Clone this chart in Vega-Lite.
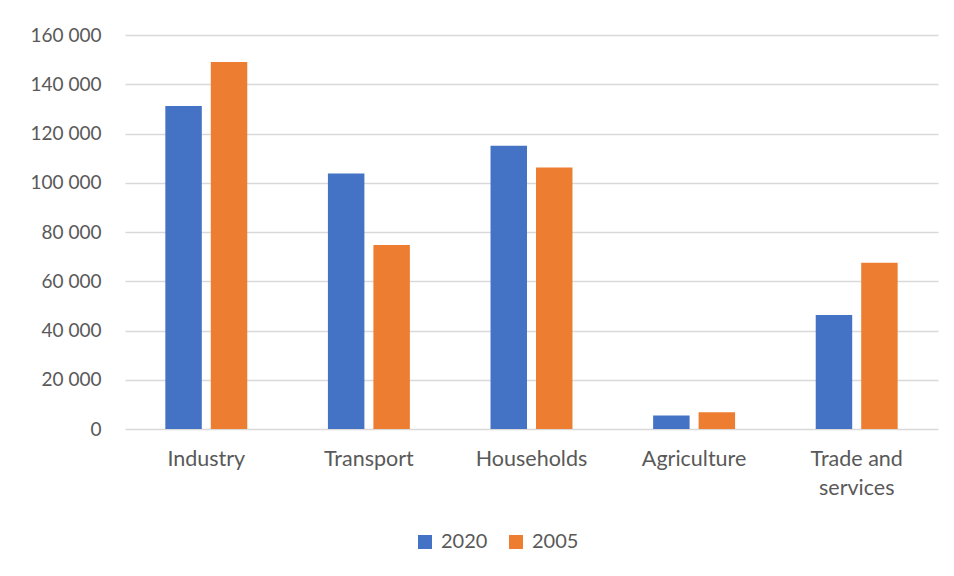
{
  "$schema": "https://vega.github.io/schema/vega-lite/v6.json",
  "autosize": {"type": "none"},
  "width": 813,
  "height": 394,
  "padding": {"left": 125, "top": 35, "right": 16, "bottom": 147},
  "background": "white",
  "data": {
    "values": [
      {"sector": "Industry", "year": "2020", "value": 131200},
      {"sector": "Industry", "year": "2005", "value": 149000},
      {"sector": "Transport", "year": "2020", "value": 103800},
      {"sector": "Transport", "year": "2005", "value": 74700},
      {"sector": "Households", "year": "2020", "value": 115000},
      {"sector": "Households", "year": "2005", "value": 106200},
      {"sector": "Agriculture", "year": "2020", "value": 5500},
      {"sector": "Agriculture", "year": "2005", "value": 6800},
      {"sector": "Trade and services", "year": "2020", "value": 46300},
      {"sector": "Trade and services", "year": "2005", "value": 67500}
    ]
  },
  "mark": {"type": "bar"},
  "encoding": {
    "x": {
      "field": "sector",
      "type": "nominal",
      "sort": null,
      "scale": {"paddingInner": 0.496, "paddingOuter": 0.248},
      "axis": {
        "title": null,
        "labelAngle": 0,
        "domain": false,
        "ticks": false,
        "labelPadding": 19,
        "labelFont": "Lato",
        "labelFontSize": 21.5,
        "labelColor": "#595959",
        "labelLineHeight": 29,
        "labelExpr": "datum.label == 'Trade and services' ? ['Trade and', 'services'] : datum.label"
      }
    },
    "xOffset": {
      "field": "year",
      "type": "nominal",
      "sort": ["2020", "2005"],
      "scale": {"paddingInner": 0.198, "paddingOuter": 0}
    },
    "y": {
      "field": "value",
      "type": "quantitative",
      "scale": {"domain": [0, 160000], "nice": false},
      "axis": {
        "title": null,
        "values": [0, 20000, 40000, 60000, 80000, 100000, 120000, 140000, 160000],
        "domain": false,
        "ticks": false,
        "labelPadding": 24,
        "labelFont": "Lato",
        "labelFontSize": 19,
        "labelColor": "#595959",
        "gridColor": "#d9d9d9",
        "gridWidth": 1.3,
        "labelExpr": "replace(format(datum.value, ','), ',', ' ')"
      }
    },
    "color": {
      "field": "year",
      "type": "nominal",
      "scale": {"domain": ["2020", "2005"], "range": ["#4472C4", "#ED7D31"]},
      "legend": {
        "title": null,
        "orient": "none",
        "direction": "horizontal",
        "legendX": 290,
        "legendY": 497,
        "symbolType": "square",
        "symbolSize": 196,
        "symbolStrokeWidth": 0,
        "symbolOpacity": 1,
        "labelFont": "Lato",
        "labelFontSize": 20,
        "labelColor": "#595959",
        "labelOffset": 6,
        "columnPadding": 18
      }
    }
  },
  "config": {
    "view": {"stroke": null}
  }
}
